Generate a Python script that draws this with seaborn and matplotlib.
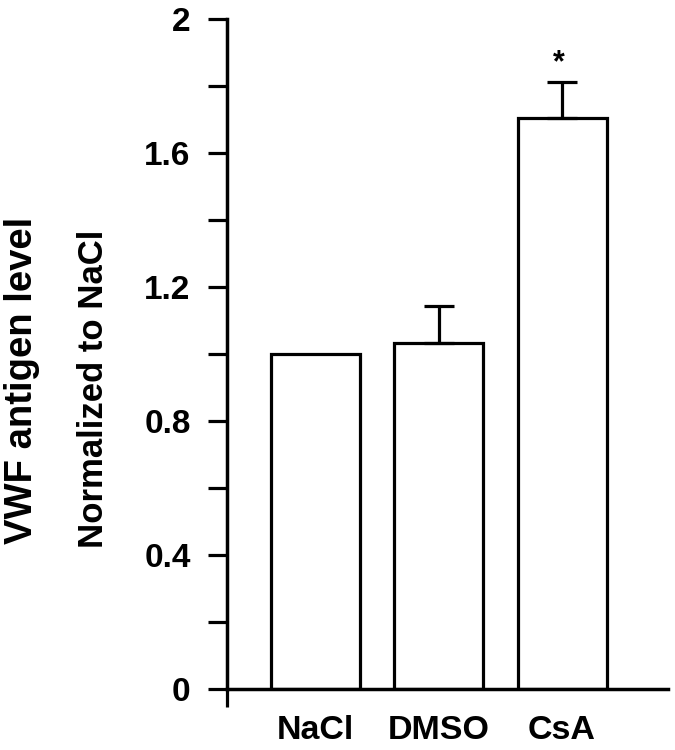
import matplotlib
matplotlib.use("Agg")
import matplotlib.pyplot as plt
import seaborn as sns
import pandas as pd

categories = ["NaCl", "DMSO", "CsA"]
values = [1.0, 1.033, 1.704]
errors_up = [0.0, 0.11, 0.108]
significance = ["", "", "*"]
yticks = [0, 0.4, 0.8, 1.2, 1.6, 2]
ytick_labels = ["0", "0.4", "0.8", "1.2", "1.6", "2"]
minor_yticks = [0.2, 0.6, 1.0, 1.4, 1.8]

sns.set_theme(style="white")
plt.rcParams["font.family"] = ["Liberation Sans", "DejaVu Sans"]
plt.rcParams["font.weight"] = "bold"

df = pd.DataFrame({"group": categories, "value": values})

fig = plt.figure(figsize=(6.75, 7.5), dpi=100)
ax = fig.add_axes([0.336, 0.0813, 0.654, 0.8934])

sns.barplot(data=df, x="group", y="value", color="white", edgecolor="black",
            linewidth=2.3, width=0.72, errorbar=None, ax=ax, saturation=1)

# one-sided upward error bars
xs = list(range(len(categories)))
for x, v, e in zip(xs, values, errors_up):
    if e > 0:
        ax.errorbar([x], [v], yerr=[[0], [e]], fmt="none", ecolor="black",
                    elinewidth=2.3, capsize=10.8, capthick=2.3, zorder=3)

for x, v, e, s in zip(xs, values, errors_up, significance):
    if s:
        ax.text(x - 0.03, v + e + 0.055, s, ha="center", va="center",
                fontsize=22, fontweight="bold", color="black")

ax.set_xlim(-0.70, 2.86)
ax.set_ylim(0, 2)
ax.set_yticks(yticks)
ax.set_yticklabels(ytick_labels, fontsize=24, fontweight="bold")
ax.set_yticks(minor_yticks, minor=True)
ax.tick_params(axis="y", which="both", direction="out", length=14, width=2.3,
               color="black", left=True, pad=12, labelcolor="black")

ax.set_xticks(xs)
ax.set_xticklabels(categories, fontsize=24.5, fontweight="bold", color="black")
ax.set_xticks([-0.715], minor=True)
ax.tick_params(axis="x", which="major", length=0, pad=19)
ax.tick_params(axis="x", which="minor", direction="out", length=13, width=2.3,
               color="black", bottom=True)

ax.set_xlabel("")
ax.set_ylabel("")
for side in ["top", "right"]:
    ax.spines[side].set_visible(False)
for side in ["left", "bottom"]:
    ax.spines[side].set_color("black")
    ax.spines[side].set_linewidth(2.5)

fig.text(0.033, 0.493, "VWF antigen level", rotation=90, ha="center",
         va="center", fontsize=27.5, fontweight="bold", color="black")
fig.text(0.139, 0.482, "Normalized to NaCl", rotation=90, ha="center",
         va="center", fontsize=25, fontweight="bold", color="black")

fig.savefig("out.png", dpi=100, facecolor="white")
